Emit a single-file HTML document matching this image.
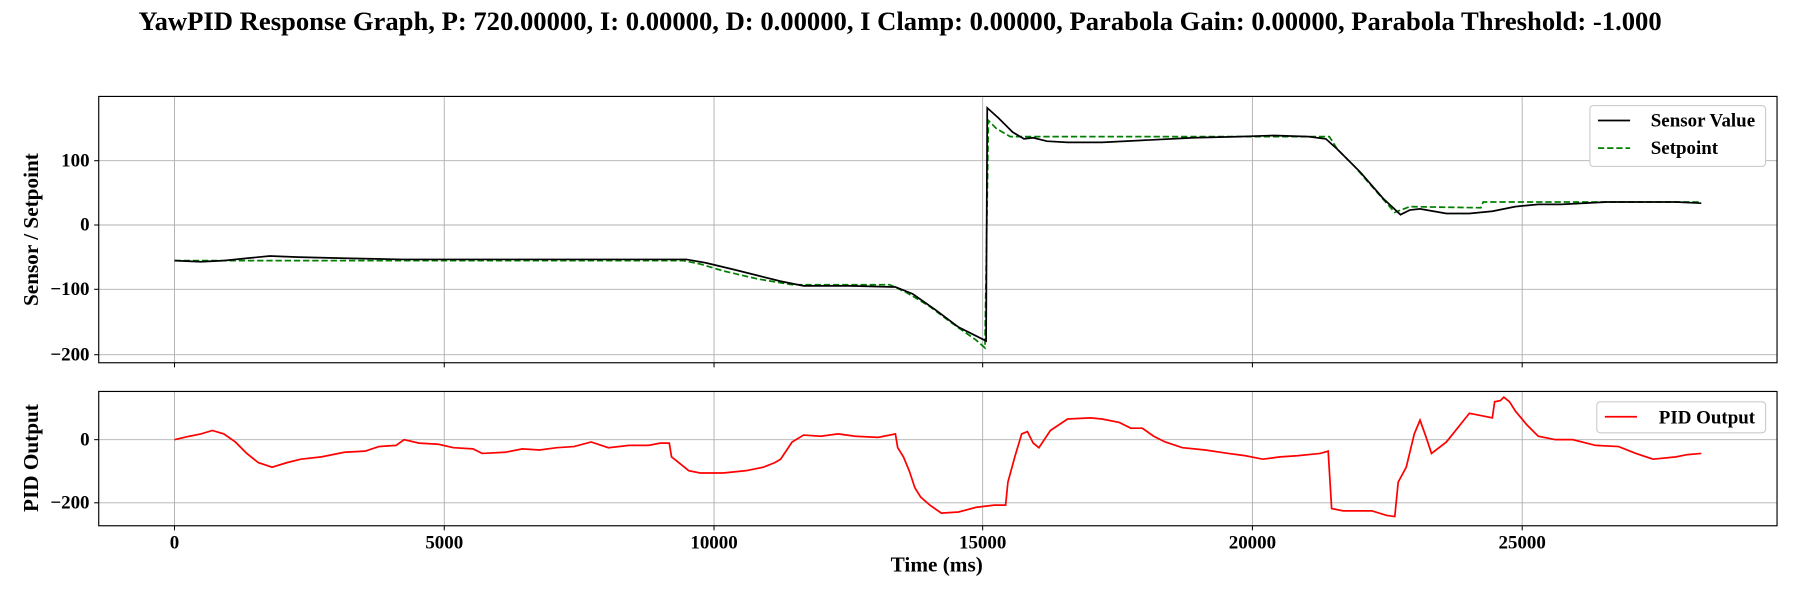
<!DOCTYPE html>
<html><head><meta charset="utf-8"><style>html,body{margin:0;padding:0;background:#fff}svg{display:block}text{font-family:"Liberation Serif",serif;font-weight:bold;fill:#000}</style></head>
<body>
<svg width="1800" height="600" viewBox="0 0 1568 522.67" xmlns="http://www.w3.org/2000/svg">
<text x="784" y="26" font-size="23.2" text-anchor="middle">YawPID Response Graph, P: 720.00000, I: 0.00000, D: 0.00000, I Clamp: 0.00000, Parabola Gain: 0.00000, Parabola Threshold: -1.000</text>
<g stroke="#b0b0b0" stroke-width="0.8">
<line x1="152" y1="84" x2="152" y2="316"/><line x1="387" y1="84" x2="387" y2="316"/><line x1="622" y1="84" x2="622" y2="316"/><line x1="856" y1="84" x2="856" y2="316"/><line x1="1091" y1="84" x2="1091" y2="316"/><line x1="1326" y1="84" x2="1326" y2="316"/>
<line x1="86" y1="140" x2="1548" y2="140"/><line x1="86" y1="196" x2="1548" y2="196"/><line x1="86" y1="252" x2="1548" y2="252"/><line x1="86" y1="309" x2="1548" y2="309"/>
<line x1="152" y1="341" x2="152" y2="458"/><line x1="387" y1="341" x2="387" y2="458"/><line x1="622" y1="341" x2="622" y2="458"/><line x1="856" y1="341" x2="856" y2="458"/><line x1="1091" y1="341" x2="1091" y2="458"/><line x1="1326" y1="341" x2="1326" y2="458"/>
<line x1="86" y1="383" x2="1548" y2="383"/><line x1="86" y1="438" x2="1548" y2="438"/>
</g>
<g stroke="#000" stroke-width="0.9">
<line x1="152" y1="316" x2="152" y2="320"/><line x1="387" y1="316" x2="387" y2="320"/><line x1="622" y1="316" x2="622" y2="320"/><line x1="856" y1="316" x2="856" y2="320"/><line x1="1091" y1="316" x2="1091" y2="320"/><line x1="1326" y1="316" x2="1326" y2="320"/>
<line x1="152" y1="458" x2="152" y2="462"/><line x1="387" y1="458" x2="387" y2="462"/><line x1="622" y1="458" x2="622" y2="462"/><line x1="856" y1="458" x2="856" y2="462"/><line x1="1091" y1="458" x2="1091" y2="462"/><line x1="1326" y1="458" x2="1326" y2="462"/>
<line x1="82" y1="140" x2="86" y2="140"/><line x1="82" y1="196" x2="86" y2="196"/><line x1="82" y1="252" x2="86" y2="252"/><line x1="82" y1="309" x2="86" y2="309"/>
<line x1="82" y1="383" x2="86" y2="383"/><line x1="82" y1="438" x2="86" y2="438"/>
</g>
<path fill="none" stroke="#008000" stroke-width="1.5" stroke-dasharray="5.5,2.5" d="M152,227 L595,227 L610,230 L630,236 L660,243 L690,248 L775,248 L790,255 L810,267 L830,282 L850,296 L858,303 L861,105 L868,112 L880,119 L1158,119 L1165,130 L1180,145 L1200,168 L1215,185 L1228,180 L1290,181 L1292,176 L1482,176"/>
<path fill="none" stroke="#000" stroke-width="1.5" d="M152,227 L175,228 L195,227 L215,225 L235,223 L260,224 L300,225 L350,226 L400,226 L450,226 L500,226 L550,226 L598,226 L615,229 L640,235 L660,240 L680,245 L700,249 L740,249 L780,250 L795,256 L815,270 L835,285 L859,297 L860,94 L870,103 L882,115 L892,121 L900,120 L912,123 L930,124 L960,124 L1000,122 L1040,120 L1080,119 L1110,118 L1140,119 L1155,121 L1165,130 L1185,150 L1205,173 L1220,187 L1228,183 L1237,182 L1260,186 L1280,186 L1300,184 L1320,180 L1340,178 L1360,178 L1400,176 L1440,176 L1460,176 L1482,177"/>
<path fill="none" stroke="#f00" stroke-width="1.5" d="M152,383 L165,380 L175,378 L185,375 L195,378 L205,385 L215,395 L225,403 L237,407 L250,403 L262,400 L280,398 L300,394 L318,393 L330,389 L345,388 L352,383 L365,386 L382,387 L395,390 L412,391 L420,395 L440,394 L455,391 L470,392 L485,390 L500,389 L515,385 L530,390 L548,388 L565,388 L575,386 L583,386 L585,398 L590,402 L595,406 L600,410 L610,412 L630,412 L650,410 L665,407 L675,403 L680,400 L690,385 L700,379 L715,380 L730,378 L745,380 L765,381 L780,378 L782,390 L787,398 L792,410 L797,425 L802,433 L810,440 L820,447 L835,446 L850,442 L866,440 L876,440 L878,420 L884,398 L890,378 L895,376 L900,386 L905,390 L915,375 L930,365 L950,364 L960,365 L975,368 L985,373 L995,373 L1005,380 L1015,385 L1030,390 L1050,392 L1070,395 L1085,397 L1100,400 L1115,398 L1130,397 L1150,395 L1157,393 L1160,443 L1170,445 L1195,445 L1208,449 L1215,450 L1218,420 L1225,407 L1232,378 L1237,366 L1242,380 L1247,395 L1260,385 L1280,360 L1290,362 L1300,364 L1302,350 L1307,349 L1310,346 L1315,350 L1320,358 L1330,370 L1340,380 L1355,383 L1370,383 L1390,388 L1410,389 L1425,395 L1440,400 L1460,398 L1470,396 L1482,395"/>
<rect x="86" y="84" width="1462" height="232" fill="none" stroke="#000" stroke-width="1"/>
<rect x="86" y="341" width="1462" height="117" fill="none" stroke="#000" stroke-width="1"/>
<g font-size="16.5">
<text x="78" y="145" text-anchor="end">100</text><text x="78" y="201" text-anchor="end">0</text><text x="78" y="257" text-anchor="end">−100</text><text x="78" y="314" text-anchor="end">−200</text>
<text x="78" y="388" text-anchor="end">0</text><text x="78" y="443" text-anchor="end">−200</text>
<text x="152" y="478" text-anchor="middle">0</text><text x="387" y="478" text-anchor="middle">5000</text><text x="622" y="478" text-anchor="middle">10000</text><text x="856" y="478" text-anchor="middle">15000</text><text x="1091" y="478" text-anchor="middle">20000</text><text x="1326" y="478" text-anchor="middle">25000</text>
</g>
<text x="816" y="498" font-size="18.5" text-anchor="middle">Time (ms)</text>
<text transform="translate(33,200) rotate(-90)" font-size="18.5" text-anchor="middle">Sensor / Setpoint</text>
<text transform="translate(33,399) rotate(-90)" font-size="18.5" text-anchor="middle">PID Output</text>
<rect x="1385" y="92" width="153" height="53" rx="3" fill="#fff" stroke="#ccc" stroke-width="1"/>
<line x1="1392" y1="105" x2="1420" y2="105" stroke="#000" stroke-width="1.5"/>
<text x="1438" y="110" font-size="16.5">Sensor Value</text>
<line x1="1392" y1="129" x2="1420" y2="129" stroke="#008000" stroke-width="1.5" stroke-dasharray="5.5,2.5"/>
<text x="1438" y="134" font-size="16.5">Setpoint</text>
<rect x="1391" y="350" width="147" height="27" rx="3" fill="#fff" stroke="#ccc" stroke-width="1"/>
<line x1="1398" y1="363" x2="1426" y2="363" stroke="#f00" stroke-width="1.5"/>
<text x="1445" y="369" font-size="16.5">PID Output</text>
</svg>
</body></html>
